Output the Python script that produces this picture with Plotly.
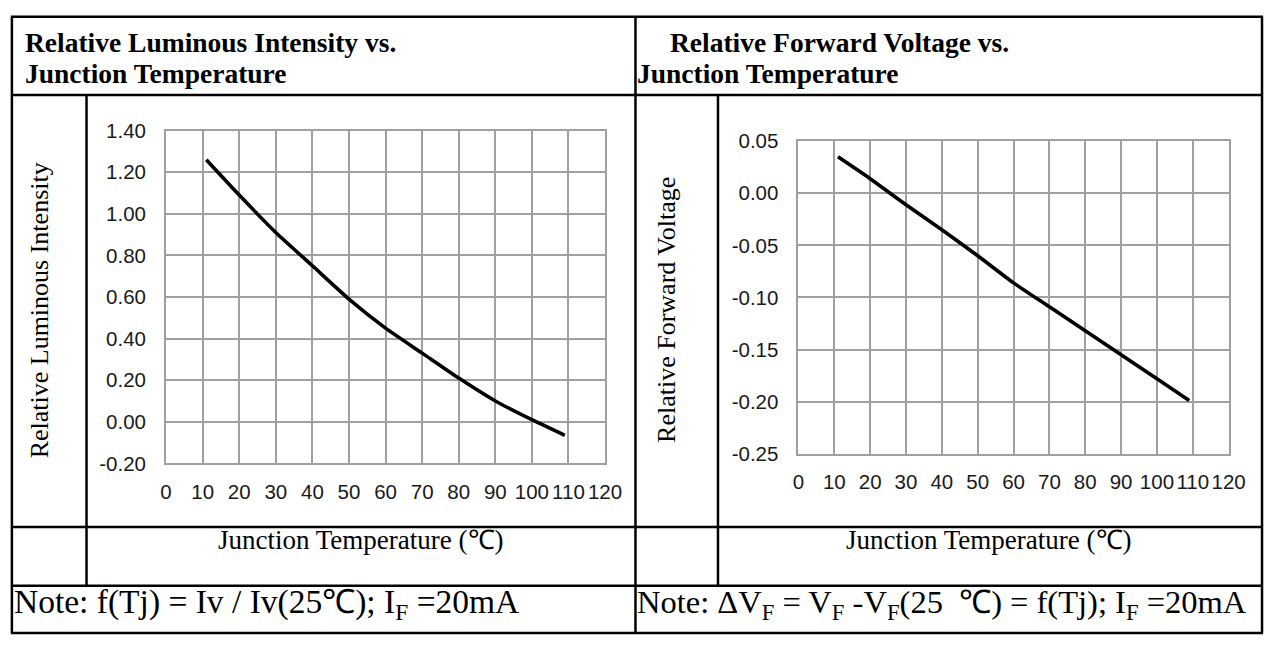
import plotly.graph_objects as go

# ---------------- data ----------------
temp_iv = [11, 20, 30, 40, 50, 60, 70, 80, 90, 100, 109]
rel_iv = [1.26, 1.09, 0.91, 0.75, 0.59, 0.45, 0.33, 0.21, 0.10, 0.01, -0.065]

temp_vf = [11, 20, 30, 40, 50, 60, 70, 80, 90, 100, 109]
rel_vf = [0.035, 0.014, -0.011, -0.035, -0.060, -0.086, -0.109, -0.132, -0.155, -0.178, -0.199]

x_tickvals = [0, 10, 20, 30, 40, 50, 60, 70, 80, 90, 100, 110, 120]
x_ticktext = ["0", "10", "20", "30", "40", "50", "60", "70", "80", "90", "100", "110", "120"]

iv_tickvals = [-0.2, 0.0, 0.2, 0.4, 0.6, 0.8, 1.0, 1.2, 1.4]
iv_ticktext = ["-0.20", "0.00", "0.20", "0.40", "0.60", "0.80", "1.00", "1.20", "1.40"]

vf_tickvals = [-0.25, -0.20, -0.15, -0.10, -0.05, 0.0, 0.05]
vf_ticktext = ["-0.25", "-0.20", "-0.15", "-0.10", "-0.05", "0.00", "0.05"]

# ---------------- layout helpers ----------------
W, H = 1280, 646


def fx(px):
    return px / W


def fy(py):
    return 1 - py / H


SERIF = "Liberation Serif, Times New Roman, serif"
SANS = "Liberation Sans, Arial, sans-serif"
GRID = "#a0a0a0"

fig = go.Figure()

fig.add_trace(go.Scatter(x=temp_iv, y=rel_iv, mode="lines",
                         line=dict(color="black", width=3.6, shape="spline", smoothing=0.6),
                         xaxis="x", yaxis="y", showlegend=False, hoverinfo="skip"))
fig.add_trace(go.Scatter(x=temp_vf, y=rel_vf, mode="lines",
                         line=dict(color="black", width=3.6, shape="spline", smoothing=0.6),
                         xaxis="x2", yaxis="y2", showlegend=False, hoverinfo="skip"))

axis_common = dict(showgrid=True, gridcolor=GRID, gridwidth=2, showline=True, linecolor=GRID, linewidth=2,
                   mirror=True, zeroline=False, ticks="", tickangle=0,
                   tickfont=dict(family=SANS, size=20.5, color="#1a1a1a"),
                   fixedrange=True)

fig.update_layout(
    width=W, height=H, margin=dict(l=0, r=0, t=0, b=0),
    paper_bgcolor="white", plot_bgcolor="white",
    xaxis=dict(domain=[fx(163), fx(610)], range=[0, 120], tickvals=x_tickvals, ticktext=x_ticktext,
               anchor="y", ticklabelstandoff=9, **axis_common),
    yaxis=dict(domain=[fy(468), fy(123)], range=[-0.2, 1.4], tickvals=iv_tickvals, ticktext=iv_ticktext,
               anchor="x", ticklabelstandoff=14, **axis_common),
    xaxis2=dict(domain=[fx(807), fx(1245)], range=[0, 120], tickvals=x_tickvals, ticktext=x_ticktext,
                anchor="y2", ticklabelstandoff=9, **axis_common),
    yaxis2=dict(domain=[fy(458), fy(134)], range=[-0.25, 0.05], tickvals=vf_tickvals, ticktext=vf_ticktext,
                anchor="x2", ticklabelstandoff=14, **axis_common),
)

# ---------------- table lines ----------------
LW = 2.5
shapes = []


def hline(y, x0, x1):
    shapes.append(dict(type="line", xref="paper", yref="paper", x0=fx(x0), x1=fx(x1), y0=fy(y), y1=fy(y),
                       line=dict(color="black", width=LW)))


def vline(x, y0, y1):
    shapes.append(dict(type="line", xref="paper", yref="paper", x0=fx(x), x1=fx(x), y0=fy(y0), y1=fy(y1),
                       line=dict(color="black", width=LW)))


hline(5, 5, 1280)
hline(644, 5, 1280)
vline(6, 5, 644)
vline(1279, 5, 644)
vline(641, 5, 644)
hline(86, 5, 1280)
hline(534, 5, 1280)
hline(595, 5, 1280)
vline(82, 86, 595)
vline(725, 86, 595)
fig.update_layout(shapes=shapes)

# ---------------- text ----------------
ann = []


def text(x, y, s, size, xanchor="left", bold=False, angle=0, family=SERIF, color="black"):
    ann.append(dict(xref="paper", yref="paper", x=fx(x), y=fy(y), text=("<b>%s</b>" % s) if bold else s,
                    showarrow=False, xanchor=xanchor, yanchor="middle", textangle=angle, borderpad=0,
                    font=dict(family=family, size=size, color=color)))


text(18, 32, "Relative Luminous Intensity vs.", 27.5, bold=True)
text(18, 64, "Junction Temperature", 27.5, bold=True)
text(675, 32, "Relative Forward Voltage vs.", 27.5, bold=True)
text(642, 64, "Junction Temperature", 27.5, bold=True)

text(35, 309, "Relative Luminous Intensity", 26, xanchor="center", angle=-90)
text(673, 309, "Relative Forward Voltage", 26, xanchor="center", angle=-90)

text(361, 548, "Junction Temperature (℃)", 27, xanchor="center")
text(1001, 548, "Junction Temperature (℃)", 27, xanchor="center")

text(7, 614, "Note: f(Tj) = Iv / Iv(25℃); I<sub>F</sub> =20mA", 33.5)
text(642, 614, "Note: ΔV<sub>F</sub> = V<sub>F</sub> -V<sub>F</sub>(25  ℃) = f(Tj); I<sub>F</sub> =20mA", 32.5)

fig.update_layout(annotations=ann)

fig.write_html("out.html", config={"displayModeBar": False},
               post_script="document.body.style.margin='0';document.body.style.overflow='hidden';")
